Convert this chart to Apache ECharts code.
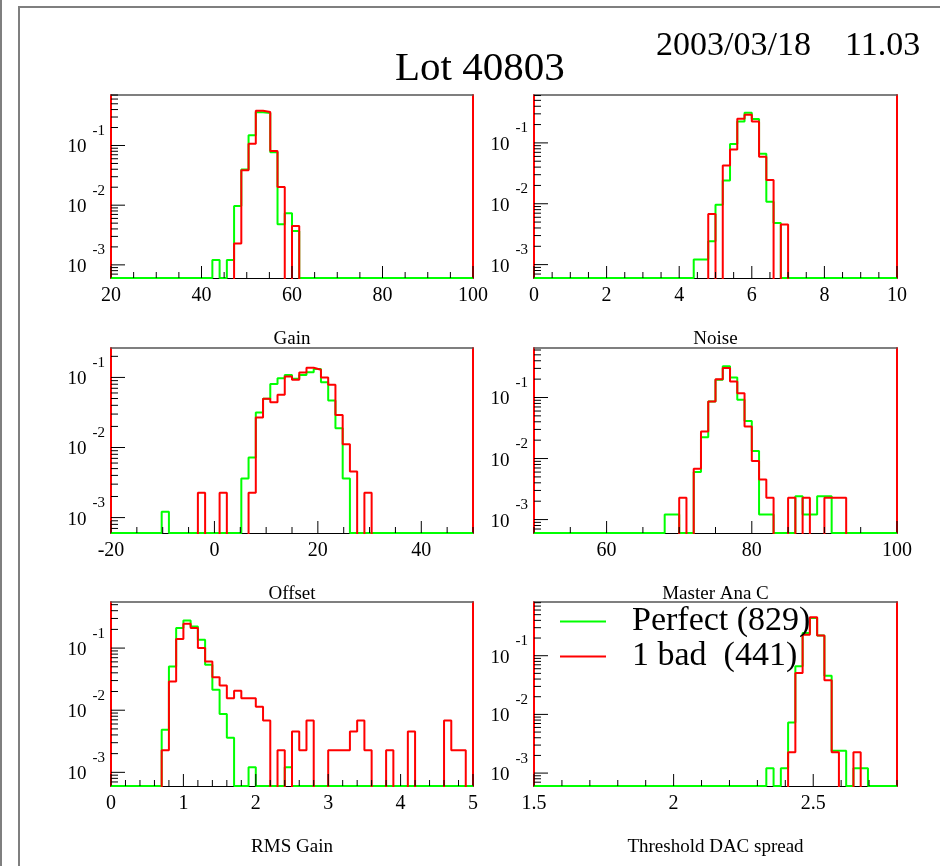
<!DOCTYPE html>
<html>
<head>
<meta charset="utf-8">
<script src="https://cdn.jsdelivr.net/npm/echarts@6/dist/echarts.min.js"></script>
<style>html,body{margin:0;padding:0;background:#fff}#c{width:940px;height:866px}</style>
</head>
<body>
<div id="c"></div>
<script>
// ---------------- data ----------------
const panelTitles = ['Gain', 'Noise', 'Offset', 'Master Ana C', 'RMS Gain', 'Threshold DAC spread'];
const xRanges = [[20, 100], [0, 10], [-20, 50], [50, 100], [0, 5], [1.5, 2.8]];
const xTickLabels = [[20, 40, 60, 80, 100], [0, 2, 4, 6, 8, 10], [-20, 0, 20, 40], [60, 80, 100], [0, 1, 2, 3, 4, 5], [1.5, 2, 2.5]];
const xMinorStep = [5, 0.5, 5, 5, 0.2, 0.1];
const yLogRanges = [[-3.22, -0.154], [-3.22, -0.213], [-3.22, -0.58], [-3.22, -0.189], [-3.22, -0.258], [-3.22, -0.085]];
const nBins = 50;
const seriesNames = ['Perfect (829)', '1 bad  (441)'];

// each histogram: first non-empty bin index, then bin contents (fraction of modules)
const gainPerfectStart = 14;
const gainPerfect = [0.00121, 0, 0.00121, 0.0097, 0.0398, 0.149, 0.36, 0.35, 0.0774, 0.0048, 0.0073, 0.0037];
const gainBadStart = 17;
const gainBad = [0.00227, 0.0383, 0.107, 0.383, 0.364, 0.0805, 0.0202, 0, 0.0045];

const noisePerfectStart = 22;
const noisePerfect = [0.00121, 0.00121, 0.00241, 0.0096, 0.0241, 0.0955, 0.2255, 0.3126, 0.246, 0.0662, 0.0108, 0.00483];
const noiseBadStart = 24;
const noiseBad = [0.0068, 0, 0.0427, 0.0778, 0.249, 0.29, 0.2256, 0.059, 0.0246, 0, 0.00454];

const offsetPerfectStart = 7;
const offsetPerfect = [0.00121, 0, 0, 0, 0, 0, 0, 0, 0, 0, 0, 0.00362, 0.0072, 0.0316, 0.0496, 0.0804, 0.0977, 0.108, 0.0957, 0.108, 0.119, 0.1316, 0.0857, 0.0469, 0.0188, 0.00362];
const offsetBadStart = 12;
const offsetBad = [0.00227, 0, 0, 0.00227, 0, 0, 0, 0.00227, 0.0267, 0.0496, 0.0444, 0.0565, 0.103, 0.0927, 0.118, 0.1375, 0.129, 0.1, 0.0785, 0.0292, 0.0111, 0.00454, 0, 0.00227];

const anaPerfectStart = 18;
const anaPerfect = [0.00121, 0.00121, 0, 0, 0.006, 0.0223, 0.0859, 0.195, 0.3236, 0.213, 0.0916, 0.0413, 0.0133, 0.00121, 0.00121, 0, 0, 0, 0.00241, 0.00121, 0.00121, 0.00241, 0.00241];
const anaBadStart = 20;
const anaBad = [0.00227, 0, 0.0068, 0.0276, 0.0859, 0.2, 0.303, 0.183, 0.1178, 0.0334, 0.00907, 0.00454, 0.00227, 0, 0, 0.00227, 0, 0.00227, 0, 0, 0.00227, 0.00227, 0.00227];

const rmsPerfectStart = 7;
const rmsPerfect = [0.00483, 0.0506, 0.21, 0.279, 0.2233, 0.136, 0.0538, 0.0213, 0.00873, 0.00362, 0, 0, 0.00121, 0, 0, 0, 0, 0.00121];
const rmsBadStart = 7;
const rmsBad = [0.00227, 0.029, 0.1396, 0.2466, 0.21, 0.1, 0.061, 0.034, 0.025, 0.0156, 0.0205, 0.0156, 0.0156, 0.01134, 0.0068, 0, 0.00227, 0, 0.00454, 0.00227, 0.0068, 0, 0, 0.00227, 0.00227, 0.00227, 0.00454, 0.0068, 0.00227, 0, 0, 0.00227, 0, 0, 0.00454, 0, 0, 0, 0, 0.0068, 0.00227, 0.00227];

const dacPerfectStart = 32;
const dacPerfect = [0.00121, 0, 0.00121, 0.0073, 0.0658, 0.243, 0.438, 0.222, 0.0456, 0.00241, 0.00241, 0, 0.00121, 0.00121];
const dacBadStart = 35;
const dacBad = [0.00227, 0.0507, 0.228, 0.45, 0.222, 0.038, 0.00227, 0, 0, 0.00227];

const perfectHists = [[gainPerfectStart, gainPerfect], [noisePerfectStart, noisePerfect], [offsetPerfectStart, offsetPerfect], [anaPerfectStart, anaPerfect], [rmsPerfectStart, rmsPerfect], [dacPerfectStart, dacPerfect]];
const badHists = [[gainBadStart, gainBad], [noiseBadStart, noiseBad], [offsetBadStart, offsetBad], [anaBadStart, anaBad], [rmsBadStart, rmsBad], [dacBadStart, dacBad]];

// ---------------- layout / style ----------------
const FONT = "'Liberation Serif','Times New Roman',serif";
const grids = [
  {left: 111, top: 95, width: 362, height: 183},
  {left: 534, top: 95, width: 363, height: 183},
  {left: 111, top: 348, width: 362, height: 185},
  {left: 534, top: 348, width: 363, height: 185},
  {left: 111, top: 602, width: 362, height: 184},
  {left: 534, top: 602, width: 363, height: 184}
];
const GREEN = '#00ff00', RED = '#ff0000';

function histPoints(lo, hi, start, vals, floor) {
  const w = (hi - lo) / nBins;
  const pts = [[lo, floor]];
  for (let k = 0; k < nBins; k++) {
    const i = k - start;
    const v = (i >= 0 && i < vals.length && vals[i] > 0) ? vals[i] : floor;
    pts.push([lo + k * w, v]);
    pts.push([lo + (k + 1) * w, v]);
  }
  pts.push([hi, floor]);
  return pts;
}

function fmtLog(v) {
  const e = Math.round(Math.log10(v));
  if (Math.abs(Math.log10(v) - e) > 1e-6) return '';
  return '{b|10}{s|' + e + '}';
}

const xAxes = [], yAxes = [], series = [];
grids.forEach((g, p) => {
  const [xlo, xhi] = xRanges[p];
  const [ylo, yhi] = yLogRanges[p];
  const ymin = Math.pow(10, ylo), ymax = Math.pow(10, yhi);
  const labels = xTickLabels[p];
  const major = labels[1] - labels[0];
  xAxes.push({
    gridIndex: p, type: 'value', min: xlo, max: xhi, interval: (p === 3 ? 10 : major),
    position: 'bottom',
    axisLine: {show: true, onZero: false, lineStyle: {color: '#000', width: 1}},
    axisTick: {show: false}, splitLine: {show: false},
    axisLabel: {
      show: true, margin: 8, color: '#000', fontFamily: FONT, fontSize: 20,
      showMinLabel: true, showMaxLabel: true,
      formatter: (v) => labels.some(l => Math.abs(l - v) < 1e-9) ? String(v) : ''
    },
    name: panelTitles[p], nameLocation: 'middle', nameGap: 61,
    nameTextStyle: {fontFamily: FONT, fontSize: 19, color: '#000', verticalAlign: 'middle'}
  });
  xAxes.push({
    gridIndex: p, type: 'value', min: xlo, max: xhi, position: 'top',
    axisLine: {show: true, onZero: false, lineStyle: {color: '#555', width: 1.5}},
    axisTick: {show: false}, splitLine: {show: false}, axisLabel: {show: false}
  });
  yAxes.push({
    gridIndex: p, type: 'log', logBase: 10, min: ymin, max: ymax, position: 'left',
    axisLine: {show: true, onZero: false, lineStyle: {color: RED, width: 2}},
    axisTick: {show: false}, splitLine: {show: false}, minorTick: {show: false},
    axisLabel: {
      show: true, margin: 6, color: '#000', fontFamily: FONT, showMinLabel: true, showMaxLabel: true,
      formatter: fmtLog,
      rich: {
        b: {fontFamily: FONT, fontSize: 19, lineHeight: 44, verticalAlign: 'middle', color: '#000', padding: [4, 0, 0, 0]},
        s: {fontFamily: FONT, fontSize: 15, lineHeight: 15, verticalAlign: 'top', color: '#000', padding: [0, 0, 0, 6]}
      }
    }
  });
  yAxes.push({
    gridIndex: p, type: 'value', min: 0, max: 1, position: 'right',
    axisLine: {show: true, onZero: false, lineStyle: {color: RED, width: 2}},
    axisTick: {show: false}, splitLine: {show: false}, axisLabel: {show: false}
  });

  const [gs, gv] = perfectHists[p];
  const [rs, rv] = badHists[p];
  series.push({
    name: seriesNames[0], type: 'line', xAxisIndex: 2 * p, yAxisIndex: 2 * p,
    data: histPoints(xlo, xhi, gs, gv, ymin), symbol: 'none', clip: true, z: 2,
    lineStyle: {color: GREEN, width: 2}, itemStyle: {color: GREEN}, silent: true
  });
  series.push({
    name: seriesNames[1], type: 'line', xAxisIndex: 2 * p, yAxisIndex: 2 * p,
    data: histPoints(xlo, xhi, rs, rv, ymin / 50), symbol: 'none', clip: true, z: 3,
    lineStyle: {color: RED, width: 2}, itemStyle: {color: RED}, silent: true
  });

  // ticks (ROOT style, pointing inward)
  const tickData = [];
  for (let d = -5; d <= 1; d++) {
    for (let m = 1; m <= 9; m++) {
      const v = m * Math.pow(10, d);
      const lv = Math.log10(v);
      if (lv >= ylo - 1e-9 && lv <= yhi + 1e-9) tickData.push([xlo, v, m === 1 ? 14 : 7, 0]);
    }
  }
  const step = xMinorStep[p];
  for (let i = 0; ; i++) {
    const v = Math.round((xlo + i * step) * 1e6) / 1e6;
    if (v > xhi + 1e-9) break;
    const isMajor = labels.some(l => Math.abs(l - v) < 1e-9);
    tickData.push([v, ymin, isMajor ? 12 : 6, 1]);
  }
  series.push({
    type: 'custom', xAxisIndex: 2 * p, yAxisIndex: 2 * p, clip: false, silent: true, z: 4,
    data: tickData,
    renderItem: (params, api) => {
      const pt = api.coord([api.value(0), api.value(1)]);
      const len = api.value(2);
      const vertical = api.value(3) === 1;
      return {
        type: 'line',
        shape: vertical ? {x1: pt[0], y1: pt[1], x2: pt[0], y2: pt[1] - len}
                        : {x1: pt[0], y1: pt[1], x2: pt[0] + len, y2: pt[1]},
        style: {stroke: '#000', lineWidth: 1}
      };
    }
  });
});

const option = {
  animation: false,
  backgroundColor: '#fff',
  title: [
    {text: 'Lot 40803', left: 395, top: 49, padding: 0,
     textStyle: {fontFamily: FONT, fontSize: 41, fontWeight: 'normal', color: '#000', lineHeight: 41}},
    {text: '2003/03/18    11.03', left: 656, top: 29, padding: 0,
     textStyle: {fontFamily: FONT, fontSize: 34, fontWeight: 'normal', color: '#000', lineHeight: 34}}
  ],
  legend: {
    data: seriesNames, orient: 'vertical', left: 560, top: 604, itemGap: 0,
    icon: 'rect', itemWidth: 46, itemHeight: 2, selectedMode: false, padding: 0,
    textStyle: {fontFamily: FONT, fontSize: 34, color: '#000', lineHeight: 35, padding: [0, 0, 0, 21]}
  },
  grid: grids.map(g => Object.assign({containLabel: false}, g)),
  xAxis: xAxes,
  yAxis: yAxes,
  series: series,
  graphic: [
    {type: 'rect', shape: {x: 19, y: 7, width: 960, height: 900}, style: {fill: 'none', stroke: '#7f7f7f', lineWidth: 2}, silent: true},
    {type: 'line', shape: {x1: 1, y1: 0, x2: 1, y2: 866}, style: {stroke: '#7f7f7f', lineWidth: 2}, silent: true}
  ]
};

const chart = echarts.init(document.getElementById('c'), null, {renderer: 'canvas'});
chart.setOption(option);
</script>
</body>
</html>
